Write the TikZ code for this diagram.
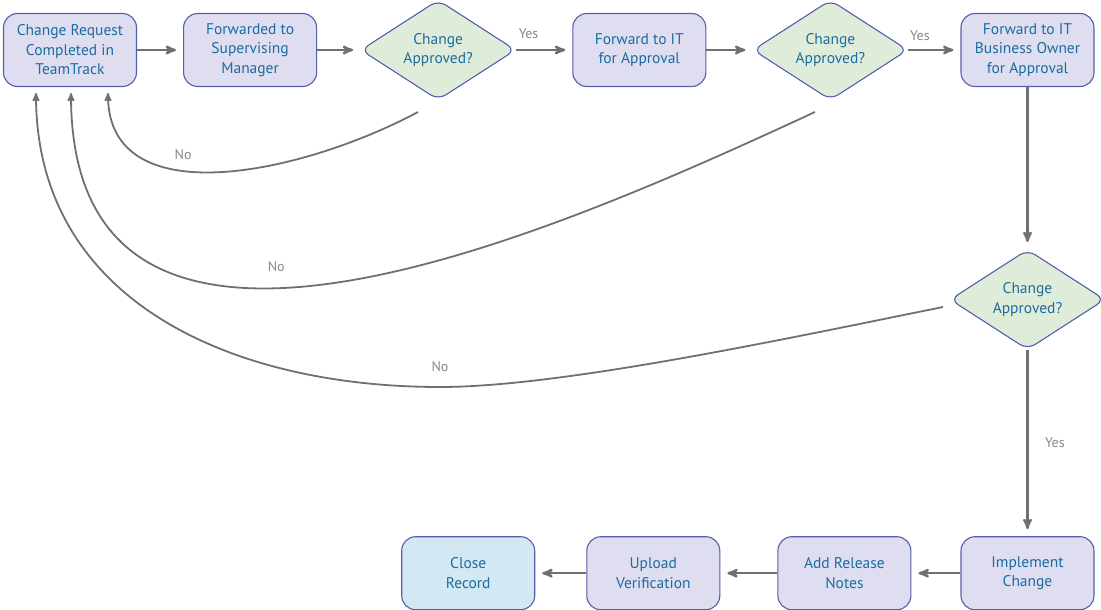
\documentclass[tikz,border=0pt]{standalone}
\usepackage{fontspec}
\setmainfont{PT Sans}
\usetikzlibrary{arrows, shapes.geometric, positioning}
\definecolor{boxline}{RGB}{84,94,172}
\definecolor{boxfill}{RGB}{222,222,240}
\definecolor{decfill}{RGB}{224,236,218}
\definecolor{endfill}{RGB}{210,232,242}
\definecolor{txtblue}{RGB}{28,108,160}
\definecolor{linegray}{RGB}{112,112,112}
\definecolor{labgray}{RGB}{136,136,136}

\begin{document}
\begin{tikzpicture}[x=1pt, y=-1pt]
	\tikzset {>=stealth', shorten >=7pt, node distance=46pt,
		task/.style={rectangle, rounded corners=14pt, draw=boxline, fill=boxfill, line width=1.1pt, minimum width=133pt, minimum height=73pt, inner sep=0pt, align=center, text=txtblue, font=\fontsize{15.5}{19.5}\selectfont},
		check/.style={diamond, aspect=1.6, rounded corners=9pt, draw=boxline, fill=decfill, line width=1.1pt, minimum width=155pt, minimum height=100pt, inner sep=0pt, align=center, text=txtblue, font=\fontsize{15.5}{19.5}\selectfont},
		flow/.style={->, draw=linegray, line width=2.4pt},
		back/.style={->, draw=linegray, line width=1.8pt, shorten >=6pt},
		answer/.style={text=labgray, font=\fontsize{14}{16}\selectfont} }
	\useasboundingbox (0,0) rectangle (1101,610);

	\node[task] (0) at (70,50) {Change Request\\Completed in\\TeamTrack};
	\node[task, right=46pt of 0] (1) {Forwarded to\\Supervising\\Manager};
	\node[check, right=43pt of 1] (2) {Change\\Approved?};
	\node[task, right=56pt of 2] (3) {Forward to IT\\for Approval};
	\node[check, right=46pt of 3] (4) {Change\\Approved?};
	\node[task, right=52pt of 4] (5) {Forward to IT\\Business Owner\\for Approval};
	\node[check, below=162pt of 5] (6) {Change\\Approved?};
	\node[task, below=186pt of 6] (7) {Implement\\Change};
	\node[task, left=49pt of 7] (8) {Add Release\\Notes};
	\node[task, left=57pt of 8] (9) {Upload\\Verification};
	\node[task, fill=endfill, left=51pt of 9] (10) {Close\\Record};

	\coordinate (n2) at (418,112);
	\coordinate (n4) at (815,112);
	\coordinate (n6) at (943,307);

	\draw[flow] (0) -- (1);
	\draw[flow] (1) -- (2);
	\draw[flow] (2) -- node[answer, pos=0.22, above=7pt] (y2) {Yes} (3);
	\draw[flow] (3) -- (4);
	\draw[flow] (4) -- node[answer, pos=0.22, above=5pt] (y4) {Yes} (5);
	\draw[flow] (5) -- (6);
	\draw[flow] (6) -- node[answer, pos=0.5, right=13pt] (y6) {Yes} (7);
	\draw[flow] (7) -- (8);
	\draw[flow] (8) -- (9);
	\draw[flow] (9) -- (10);

	\draw[back] (n2) .. controls (300,175) and (108,215) .. node[answer, pos=0.6, above=5pt] (no2) {No} ([xshift=38pt]0.south);
	\draw[back] (n4) .. controls (560,230) and (71,450) .. node[answer, pos=0.58, above=11pt] (no4) {No} ([xshift=1pt]0.south);
	\draw[back] (n6) .. controls (780,340) and (560,387) .. (440,387) node[answer, above=11pt] (no6) {No}
		.. controls (230,387) and (36,300) .. ([xshift=-34pt]0.south);
\end{tikzpicture}
\end{document}
